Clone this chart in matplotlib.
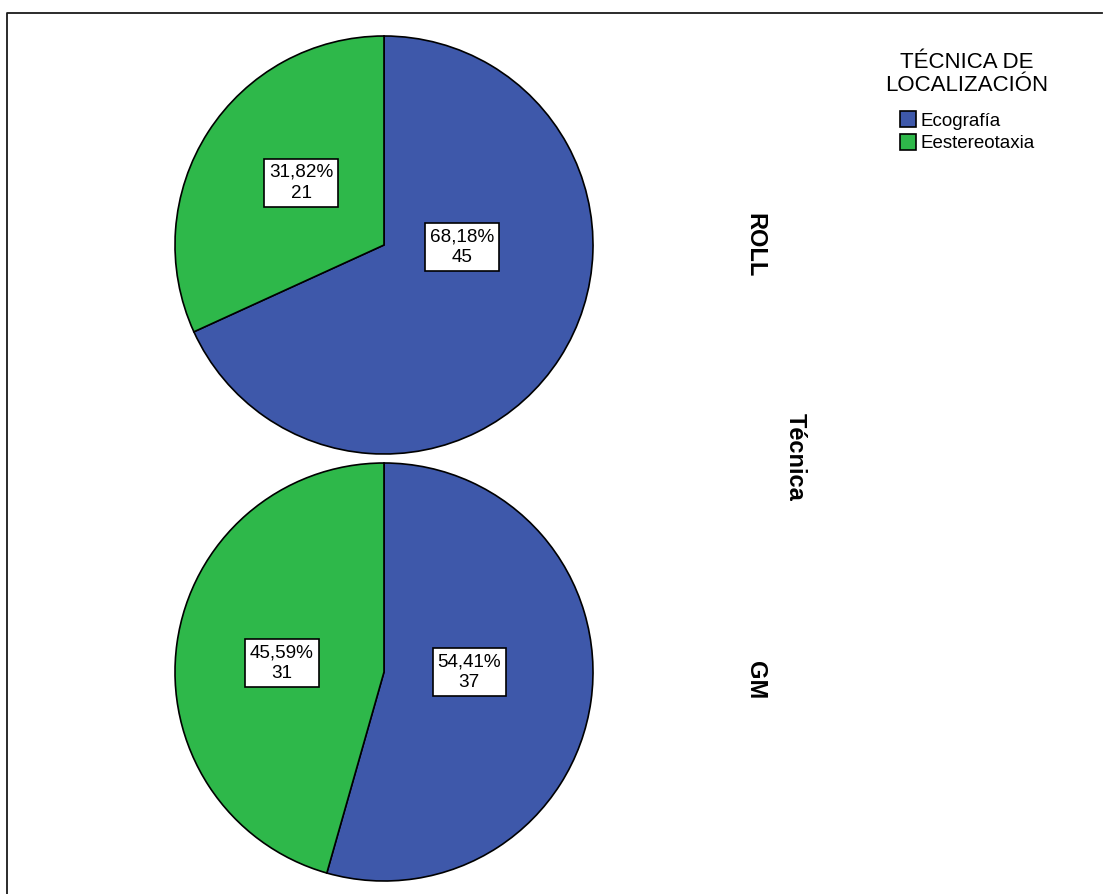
import matplotlib.pyplot as plt
from matplotlib.patches import Patch
from matplotlib.lines import Line2D

# Datos: frecuencias por técnica de localización
grupos = ['ROLL', 'GM']
categorias = ['Ecografía', 'Eestereotaxia']
conteos_roll = [45, 21]
conteos_gm = [37, 31]

colores = ['#3E58AA', '#2EB84A']
plt.rcParams['font.family'] = ['Liberation Sans', 'DejaVu Sans']

W, H = 1103, 894
fig = plt.figure(figsize=(W / 100, H / 100), dpi=100)

# posiciones de las etiquetas (coordenadas del gráfico, radio = 1)
pos_etiquetas = {
    'ROLL': [(0.373, -0.01), (-0.397, 0.297)],
    'GM': [(0.407, 0.0), (-0.488, 0.043)],
}
centros = {'ROLL': (384, 245), 'GM': (384, 672)}
R = 209

for grupo, conteos in zip(grupos, [conteos_roll, conteos_gm]):
    cx, cy = centros[grupo]
    ax = fig.add_axes([(cx - R) / W, 1 - (cy + R) / H, 2 * R / W, 2 * R / H])
    ax.pie(conteos, colors=colores, startangle=90, counterclock=False, radius=1,
           wedgeprops=dict(edgecolor='black', linewidth=1.2))
    ax.set_xlim(-1.0, 1.0)
    ax.set_ylim(-1.0, 1.0)
    ax.set_aspect('equal')
    ax.axis('off')
    total = sum(conteos)
    for n, (x, y) in zip(conteos, pos_etiquetas[grupo]):
        pct = f"{100 * n / total:.2f}".replace('.', ',')
        ax.text(x, y, f"{pct}%\n{n}", ha='center', va='center', fontsize=13.6,
                linespacing=1.3,
                bbox=dict(boxstyle='square,pad=0.25', facecolor='white',
                          edgecolor='black', linewidth=1.2))
    fig.text((cx + 371) / W, 1 - (cy + 8) / H if grupo == 'GM' else 1 - cy / H,
             grupo, rotation=270, ha='center', va='center', fontsize=17,
             fontweight='bold')

fig.text(795 / W, 1 - 457 / H, 'Técnica', rotation=270, ha='center', va='center',
         fontsize=17, fontweight='bold')

# Leyenda
handles = [Patch(facecolor=c, edgecolor='black', linewidth=1.2, label=l)
           for c, l in zip(colores, categorias)]
leg = fig.legend(handles=handles, title='TÉCNICA DE\nLOCALIZACIÓN',
                 loc='upper center', bbox_to_anchor=(967 / W, 1 - 43 / H),
                 frameon=False, fontsize=13.5, title_fontsize=16,
                 handlelength=0.85, handleheight=0.95, handletextpad=0.25,
                 labelspacing=0.2, borderpad=0)
leg.get_title().set_multialignment('center')
leg.get_title().set_linespacing(1.1)
leg._legend_box.sep = 11

# Marco
fig.add_artist(Line2D([7 / W, 7 / W, 1102 / W], [0, 1 - 13 / H, 1 - 13 / H],
                      transform=fig.transFigure, color='#1a1a1a', linewidth=1.3))

fig.savefig('out.png', dpi=100)
